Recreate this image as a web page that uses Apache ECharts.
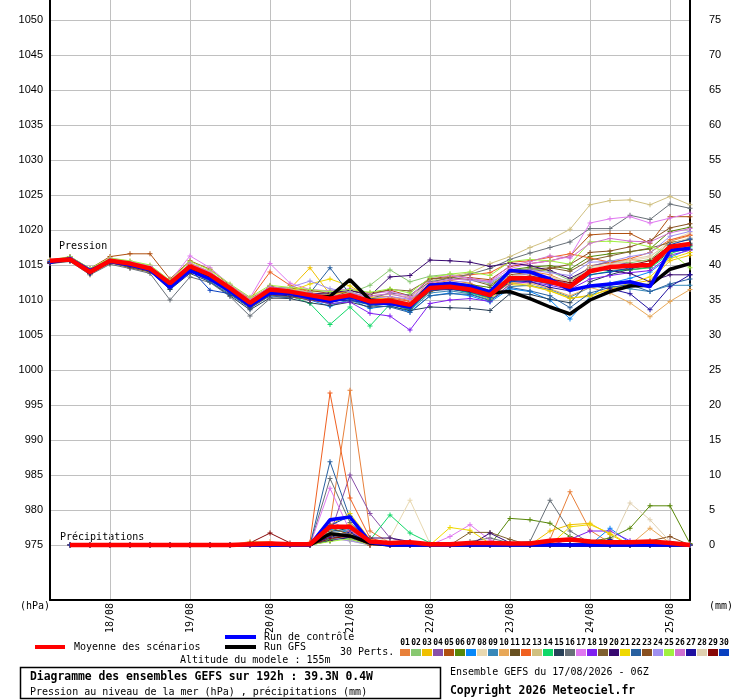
<!DOCTYPE html>
<html>
<head>
<meta charset="utf-8">
<script src="https://cdn.jsdelivr.net/npm/echarts@6/dist/echarts.min.js"></script>
<style>
  html, body { margin: 0; padding: 0; background: #fff; }
  #chart { width: 740px; height: 700px; }
</style>
</head>
<body>
<div id="chart"></div>
<script>
// run 17/08/2026 06Z, 6h steps up to 192h
const times = [
  '17/08 06Z', '17/08 12Z', '17/08 18Z',
  '18/08 00Z', '18/08 06Z', '18/08 12Z', '18/08 18Z',
  '19/08 00Z', '19/08 06Z', '19/08 12Z', '19/08 18Z',
  '20/08 00Z', '20/08 06Z', '20/08 12Z', '20/08 18Z',
  '21/08 00Z', '21/08 06Z', '21/08 12Z', '21/08 18Z',
  '22/08 00Z', '22/08 06Z', '22/08 12Z', '22/08 18Z',
  '23/08 00Z', '23/08 06Z', '23/08 12Z', '23/08 18Z',
  '24/08 00Z', '24/08 06Z', '24/08 12Z', '24/08 18Z',
  '25/08 00Z', '25/08 06Z'
]
const pressTicks = [975, 980, 985, 990, 995, 1000, 1005, 1010, 1015, 1020, 1025, 1030, 1035, 1040, 1045, 1050]
const precipTicks = [0, 5, 10, 15, 20, 25, 30, 35, 40, 45, 50, 55, 60, 65, 70, 75]

const memberColors = [
  '#e8803a', '#88c870', '#f0c000', '#8850a8', '#b05010', '#588808', '#0888f8', '#e8d8b0', '#3888b8', '#e8a858',
  '#685020', '#f06020', '#d0c080', '#10d868', '#284058', '#687078', '#e078f0', '#8020f0', '#806030', '#380870',
  '#f0d800', '#2860a0', '#885020', '#a090f0', '#a0f040', '#d070d0', '#2010a0', '#e0d0b0', '#880808', '#0840c0'
]

// sea level pressure (hPa), perturbations 01..30
const pressMembers = [
  [1015.5,1016.0,1014.2,1015.9,1015.4,1014.8,1012.6,1015.1,1013.9,1011.9,1009.8,1012.0,1011.4,1011.0,1010.6,1010.3,1010.4,1010.5,1009.9,1012.3,1012.8,1012.4,1011.3,1013.9,1014.1,1013.6,1012.4,1014.9,1015.3,1015.8,1015.5,1018.4,1019.2],
  [1015.3,1015.9,1013.8,1015.8,1015.1,1014.6,1012.3,1014.9,1013.7,1011.6,1009.4,1011.9,1011.5,1011.2,1011.3,1011.0,1012.1,1014.3,1012.6,1013.4,1013.7,1013.1,1012.3,1014.2,1014.5,1014.1,1012.8,1014.7,1015.6,1015.3,1015.8,1018.2,1018.7],
  [1015.6,1015.7,1013.9,1015.5,1015.3,1014.4,1012.7,1014.7,1013.4,1011.8,1009.9,1011.3,1011.6,1014.6,1010.8,1011.2,1010.1,1009.6,1008.9,1011.4,1011.6,1011.2,1010.1,1012.2,1012.0,1011.3,1010.2,1010.7,1011.5,1012.3,1012.8,1015.6,1016.4],
  [1015.7,1016.1,1014.4,1015.6,1015.2,1014.6,1012.2,1014.9,1013.8,1011.5,1009.3,1011.1,1010.8,1010.1,1009.6,1010.9,1009.5,1009.8,1009.0,1011.5,1012.1,1011.7,1010.4,1013.5,1013.7,1013.0,1012.3,1014.8,1015.5,1015.1,1014.6,1017.2,1017.8],
  [1015.5,1016.2,1014.5,1016.2,1016.6,1016.6,1013.0,1015.6,1014.4,1012.1,1010.2,1011.8,1011.7,1011.4,1010.9,1011.3,1011.0,1011.4,1010.6,1013.0,1013.4,1013.2,1012.9,1014.8,1015.2,1015.6,1016.3,1019.3,1019.5,1019.5,1018.1,1021.9,1021.9],
  [1015.2,1015.6,1013.7,1015.3,1014.9,1014.3,1012.0,1014.4,1013.2,1011.4,1009.5,1011.2,1010.9,1010.5,1009.9,1010.4,1009.6,1009.4,1008.8,1011.9,1012.5,1012.2,1011.8,1014.3,1014.7,1014.9,1014.4,1016.2,1016.6,1016.9,1017.3,1019.8,1020.4],
  [1015.4,1015.8,1014.1,1015.7,1015.1,1014.5,1012.1,1014.3,1013.1,1011.0,1009.2,1010.6,1010.5,1010.0,1009.1,1010.1,1008.8,1009.2,1008.3,1010.6,1011.0,1010.6,1009.7,1011.6,1011.2,1010.0,1007.3,1010.5,1012.4,1013.1,1014.0,1016.1,1017.3],
  [1015.6,1015.9,1014.3,1015.7,1015.5,1014.9,1012.5,1015.0,1013.9,1011.9,1010.0,1011.7,1011.3,1010.9,1010.3,1010.7,1010.3,1010.0,1009.6,1012.0,1012.2,1011.9,1011.0,1013.0,1013.4,1013.2,1012.6,1014.8,1015.0,1015.6,1016.1,1018.5,1019.6],
  [1015.3,1015.7,1013.9,1015.4,1014.9,1014.2,1011.6,1014.1,1012.8,1010.9,1009.0,1010.8,1010.7,1010.2,1009.4,1009.9,1009.3,1009.6,1008.5,1011.0,1011.3,1010.9,1010.0,1011.9,1012.1,1011.5,1010.4,1011.8,1012.0,1011.6,1011.2,1012.1,1012.1],
  [1015.4,1015.8,1013.6,1015.6,1015.0,1014.4,1012.3,1014.5,1013.4,1011.3,1009.7,1011.4,1011.0,1010.6,1010.2,1010.5,1009.9,1009.7,1009.1,1011.6,1011.7,1011.1,1010.3,1012.5,1012.4,1011.6,1010.6,1011.8,1011.0,1009.6,1007.6,1009.8,1011.5],
  [1015.5,1015.7,1014.0,1015.4,1014.6,1014.0,1011.9,1014.2,1013.3,1011.2,1009.0,1010.9,1010.6,1010.4,1009.9,1010.6,1009.8,1010.2,1009.5,1011.3,1011.9,1011.4,1010.8,1013.4,1013.2,1012.8,1012.2,1014.2,1014.5,1014.3,1014.7,1016.9,1017.2],
  [1015.7,1016.0,1014.3,1015.8,1015.3,1014.7,1012.4,1015.1,1013.5,1011.8,1010.1,1014.0,1012.1,1011.1,1010.0,1010.3,1009.9,1010.3,1009.8,1012.4,1013.3,1013.6,1013.9,1015.4,1015.6,1016.1,1016.6,1016.0,1015.4,1015.9,1016.8,1018.6,1019.3],
  [1015.6,1016.0,1014.2,1015.8,1015.4,1014.8,1012.6,1015.2,1014.1,1012.0,1010.3,1011.8,1011.6,1011.1,1010.7,1011.0,1010.6,1010.8,1010.4,1012.7,1013.4,1013.9,1015.2,1016.2,1017.5,1018.6,1020.1,1023.6,1024.2,1024.3,1023.6,1024.8,1023.6],
  [1015.4,1015.8,1014.0,1015.6,1015.1,1014.5,1012.3,1014.6,1013.5,1011.5,1009.4,1011.0,1010.6,1009.5,1006.5,1009.0,1006.3,1009.4,1008.6,1011.3,1011.6,1011.0,1010.3,1012.8,1012.9,1012.4,1011.7,1013.6,1014.1,1014.3,1014.6,1016.6,1017.6],
  [1015.3,1015.6,1013.8,1015.4,1014.8,1014.1,1011.5,1013.8,1012.6,1010.6,1008.6,1010.3,1010.2,1009.6,1009.2,1009.7,1009.0,1009.1,1008.5,1009.0,1008.9,1008.8,1008.5,1010.9,1010.8,1010.1,1009.6,1012.6,1013.6,1014.4,1015.2,1017.4,1018.1],
  [1015.2,1015.5,1013.6,1015.1,1014.5,1013.8,1010.0,1013.3,1012.5,1010.5,1007.7,1010.2,1010.4,1010.1,1009.7,1010.6,1010.2,1011.0,1010.7,1012.6,1013.1,1013.7,1014.5,1015.8,1016.7,1017.5,1018.3,1020.2,1020.2,1022.1,1021.5,1023.7,1023.1],
  [1015.6,1016.1,1014.4,1016.0,1015.5,1014.9,1012.7,1016.3,1014.6,1012.2,1010.3,1015.2,1012.4,1011.5,1011.3,1011.6,1010.9,1011.2,1010.5,1013.2,1013.5,1013.1,1012.6,1014.5,1015.2,1015.6,1016.2,1021.0,1021.6,1021.9,1021.0,1021.7,1022.4],
  [1015.4,1015.8,1013.9,1015.5,1015.0,1014.3,1011.9,1014.4,1013.2,1011.1,1009.1,1010.9,1010.7,1010.0,1009.5,1009.7,1008.1,1007.7,1005.7,1009.5,1010.0,1010.2,1009.8,1012.3,1012.6,1012.1,1011.5,1013.0,1013.5,1013.9,1014.2,1016.4,1017.1],
  [1015.5,1015.9,1014.1,1015.7,1015.2,1014.6,1012.2,1014.7,1013.7,1011.6,1009.6,1011.5,1011.1,1010.8,1010.3,1011.3,1010.8,1011.5,1011.3,1013.0,1013.2,1012.9,1012.1,1014.0,1014.4,1014.6,1014.1,1015.7,1016.3,1016.9,1017.4,1018.2,1018.6],
  [1015.3,1015.7,1013.9,1015.6,1015.0,1014.4,1012.0,1014.6,1013.4,1011.3,1009.4,1012.0,1011.0,1010.9,1011.0,1011.4,1010.6,1013.3,1013.5,1015.7,1015.6,1015.4,1014.8,1015.3,1014.9,1014.2,1013.1,1014.5,1014.2,1013.8,1012.6,1013.6,1013.6],
  [1015.6,1015.9,1014.2,1015.6,1015.1,1014.5,1012.2,1014.8,1013.6,1011.5,1009.5,1011.3,1011.2,1012.3,1013.0,1012.0,1010.4,1010.0,1009.2,1011.8,1012.0,1011.6,1010.7,1012.4,1012.1,1011.3,1010.3,1010.5,1011.6,1012.4,1013.3,1015.9,1016.8],
  [1015.5,1015.8,1014.0,1015.5,1015.0,1014.3,1011.7,1014.2,1012.6,1010.8,1008.8,1010.6,1010.3,1011.0,1014.6,1010.8,1009.3,1009.0,1008.2,1010.6,1010.9,1010.8,1009.9,1011.8,1011.3,1010.6,1008.9,1011.0,1011.8,1012.2,1011.2,1012.3,1013.0],
  [1015.4,1015.8,1014.1,1015.3,1014.7,1014.1,1011.8,1014.1,1013.0,1011.0,1008.9,1010.7,1010.5,1010.0,1009.6,1010.4,1009.5,1009.8,1008.9,1011.2,1011.8,1011.7,1011.0,1013.6,1014.0,1014.5,1015.1,1016.8,1017.0,1017.6,1018.5,1020.3,1020.9],
  [1015.5,1015.9,1014.2,1015.7,1015.2,1014.7,1012.4,1014.9,1013.8,1011.8,1009.8,1011.6,1011.8,1012.7,1011.6,1011.2,1010.2,1010.5,1010.1,1012.1,1012.5,1012.8,1012.5,1014.1,1014.3,1013.9,1013.5,1015.4,1015.5,1016.2,1016.7,1019.1,1019.8],
  [1015.7,1016.2,1014.5,1016.0,1015.6,1015.0,1012.8,1015.5,1014.3,1012.3,1010.4,1012.1,1011.8,1011.5,1011.2,1011.5,1011.1,1011.6,1011.0,1013.2,1013.7,1014.0,1013.5,1015.5,1015.8,1015.6,1015.1,1018.3,1018.4,1018.2,1017.6,1016.8,1014.6],
  [1015.6,1016.0,1014.3,1015.8,1015.3,1014.8,1012.5,1015.3,1014.0,1011.9,1010.0,1011.9,1011.4,1011.0,1010.5,1010.9,1010.6,1010.9,1010.2,1012.5,1012.9,1013.0,1012.7,1014.9,1015.5,1016.3,1016.0,1018.1,1018.8,1018.4,1018.3,1019.6,1020.2],
  [1015.3,1015.7,1013.8,1015.4,1014.9,1014.2,1011.8,1014.3,1013.1,1011.0,1009.1,1010.8,1010.6,1010.3,1009.8,1010.0,1009.4,1009.9,1009.3,1011.4,1011.5,1011.3,1010.9,1012.8,1012.6,1011.8,1011.3,1012.1,1011.6,1010.9,1008.6,1011.9,1013.6],
  [1015.5,1015.9,1014.2,1015.6,1015.2,1014.6,1012.3,1014.8,1013.7,1011.7,1009.7,1011.4,1011.0,1010.6,1010.1,1010.6,1009.9,1010.1,1009.6,1011.9,1012.2,1012.0,1011.3,1013.5,1013.6,1013.3,1012.7,1014.5,1015.1,1015.8,1016.3,1018.0,1018.9],
  [1015.4,1015.8,1014.0,1015.5,1015.0,1014.4,1012.1,1014.5,1013.3,1011.2,1009.2,1011.0,1010.8,1010.4,1009.9,1010.5,1009.7,1009.9,1009.4,1011.6,1011.8,1011.5,1010.9,1013.2,1013.4,1013.0,1012.5,1014.3,1014.6,1015.0,1015.6,1017.8,1017.9],
  [1015.5,1016.0,1014.2,1015.6,1015.1,1014.5,1012.0,1014.5,1011.4,1010.9,1009.0,1011.1,1010.8,1010.2,1009.7,1010.2,1009.3,1009.4,1008.7,1011.4,1011.6,1011.1,1010.4,1012.6,1012.8,1012.3,1011.8,1013.6,1014.0,1014.6,1014.9,1017.9,1018.7]
]
const pressControl = [1015.4,1015.9,1014.2,1015.5,1015.0,1014.3,1011.8,1014.2,1013.0,1011.3,1009.2,1011.0,1011.0,1010.3,1009.8,1010.5,1009.6,1009.5,1009.0,1012.1,1012.4,1012.0,1011.2,1014.2,1014.0,1013.0,1011.4,1012.0,1012.3,1012.6,1011.9,1017.1,1017.4]
const pressGfs = [1015.5,1015.8,1014.1,1015.6,1015.1,1014.4,1012.2,1014.6,1013.4,1011.5,1009.5,1011.3,1011.0,1010.5,1010.5,1012.9,1010.0,1009.8,1009.2,1012.1,1012.1,1011.4,1011.0,1011.2,1010.2,1009.0,1008.0,1010.0,1011.2,1012.0,1012.1,1014.4,1015.2]
const pressMean = [1015.6,1015.8,1014.0,1015.6,1015.2,1014.5,1012.4,1014.8,1013.6,1011.7,1009.6,1011.5,1011.2,1010.7,1010.2,1010.7,1009.8,1009.9,1009.3,1011.7,1011.9,1011.5,1010.7,1013.1,1013.1,1012.6,1011.9,1014.1,1014.7,1014.9,1015.0,1017.6,1018.0]

// 6h precipitation (mm), perturbations 01..30 (no value at the first step)
const precipMembers = [
  [null,0,0,0,0,0,0,0,0,0,0,0,0, 0.3,3.0,22.1,2.0,0.3,0,0,0,0,0,0,0,0.8,7.6,2.1,0.3,0,0,0,0],
  [null,0,0,0,0,0,0,0,0,0,0,0,0, 0,1.2,0.8,0,0,0,0,0,0,0,0,0,0,0,0,0,0,0,0,0],
  [null,0,0,0,0,0,0,0,0,0,0,0,0, 0,2.0,3.0,0.5,0,0,0,0,0,0,0,0,2.0,2.9,3.1,1.5,0,0,0,0],
  [null,0,0,0,0,0,0,0,0,0,0,0,0, 0,1.5,10.0,4.5,1.0,0.3,0,0,0,0,0,0,0,0,0,0,0,0,0,0],
  [null,0,0,0,0,0,0,0,0,0,0,0,0, 0,0.8,1.5,0.3,0,0,0,0,0,0,0,0,0,0,0,0,0,0,0,0],
  [null,0,0,0,0,0,0,0,0,0,0,0,0, 0,0.6,1.2,0,0,0,0,0,0,0,3.8,3.6,3.1,1.2,0.5,1.0,2.4,5.6,5.6,0.2],
  [null,0,0,0,0,0,0,0,0,0,0,0,0, 0,2.2,1.8,0.3,0,0,0,0,0,0,0,0,0,0,0,2.4,0.3,0,0,0],
  [null,0,0,0,0,0,0,0,0,0,0,0,0, 0,1.3,2.5,0.4,1.0,6.4,0.2,0,0,0,0,0,0,0,0,0,0,0,0,0],
  [null,0,0,0,0,0,0,0,0,0,0,0,0, 0,1.7,2.2,0.5,0,0,0,0,0,0,0,0,0,0,0,0,0,0,0,0],
  [null,0,0,0,0,0,0,0,0,0,0.5,0.5,0, 0,1.4,1.0,0,0,0,0,0,0,0,0,0,0,0,0,0,0,2.4,0.3,0],
  [null,0,0,0,0,0,0,0,0,0,0,0,0, 0,0.9,1.6,0.4,0,0,0,0,0,0,0,0,0,0,0,0,0,0,0,0],
  [null,0,0,0,0,0,0,0,0,0,0,0,0, 0.4,21.7,6.7,1.0,0.2,0,0,0,0,0,0,0,0,0,0,0,0,0,0,0],
  [null,0,0,0,0,0,0,0,0,0,0,0,0, 0,1.0,0.6,0,0,0,0,0,0,0,0,0,0,0,0,0,0,0,0,0],
  [null,0,0,0,0,0,0,0,0,0,0,0,0, 0,0.8,1.0,0.7,4.3,1.7,0.3,0,0,0,0,0,0,0,0,0,0,0,0,0],
  [null,0,0,0,0,0,0,0,0,0,0,0,0, 0,1.9,2.4,0.4,0,0,0,0,0,0,0,0,0,0,0,0,0,0,0,0],
  [null,0,0,0,0,0,0,0,0,0,0,0,0, 0,9.5,3.2,0.6,0,0,0,0,0.5,1.0,0.3,0.5,6.4,2.0,0.3,0,0,0,0,0],
  [null,0,0,0,0,0,0,0,0,0,0,0,0, 0,8.1,2.0,0.3,0,0,0,1.2,2.9,0.7,0,0,0,0,0,0,0,0,0,0],
  [null,0,0,0,0,0,0,0,0,0,0,0,0, 0,1.5,1.0,0,0,0,0,0,0,0,0,0,0,0.8,2.0,2.0,0.6,0,0.5,0],
  [null,0,0,0,0,0,0,0,0,0,0,0,0, 0,2.5,1.5,0,0,0,0,0,1.8,1.8,0.8,0,0,0,0,0,0,0,0,0],
  [null,0,0,0,0,0,0,0,0,0,0,0,0, 0,0.6,1.1,1.0,1.0,0.5,0,0,0,1.7,0.3,0,0,0,0,0,0,0,0,0],
  [null,0,0,0,0,0,0,0,0,0,0,0,0, 0,2.8,4.5,0.8,0,0,0,2.5,2.1,0.2,0,0,0,2.6,2.9,1.7,0,0,0,0],
  [null,0,0,0,0,0,0,0,0,0,0,0,0, 0,11.9,3.8,0.5,0,0,0,0,0,0,0,0,0,0,0,0,0,0,0,0],
  [null,0,0,0,0,0,0,0,0,0,0,0,0, 0,1.2,2.0,0.3,0,0,0,0,0,0,0,0,0,0,0,0,0,0.6,1.2,0],
  [null,0,0,0,0,0,0,0,0,0,0,0,0, 0,1.0,0.6,0,0,0,0,0,0,0,0,0,0.7,1.0,0,0,0,0,0,0],
  [null,0,0,0,0,0,0,0,0,0,0,0,0, 0,0.5,0.9,0,0,0,0,0,0,0,0,0,0,0,0,0,0,0,0,0],
  [null,0,0,0,0,0,0,0,0,0,0,0,0, 0,3.5,2.0,0.3,0,0,0,0,0,0,0,0,0,0,0,0,0.5,0,0,0],
  [null,0,0,0,0,0,0,0,0,0,0,0,0, 0,1.1,1.8,0.3,0,0,0,0,0,0,0,0,0,0,0,0.8,0,0,0,0],
  [null,0,0,0,0,0,0,0,0,0,0,0,0, 0,1.8,1.5,0,0,0,0,0,0,0,0,0,0,0,0,0,6.0,3.6,0.5,0],
  [null,0,0,0,0,0,0,0,0,0,0.3,1.7,0.3, 0,0.9,1.3,0,0,0,0,0,0,0,0,0,0,0,0,0,0,0,0,0],
  [null,0,0,0,0,0,0,0,0,0,0,0,0, 0,2.8,4.1,0.6,0,0,0,0,0,0,0,0,0,0,0,0,0,0,0,0]
]
const precipControl = [null,0,0,0,0,0,0,0,0,0,0,0,0, 0,3.6,4.0,0.4,0,0,0,0,0,0,0,0,0,0,0,0,0,0,0,0]
const precipGfs = [null,0,0,0,0,0,0,0,0,0,0,0,0, 0,1.6,1.3,0.3,0,0,0,0,0,0,0,0,0,0,0,0,0,0,0,0]
const precipMean = [null,0,0,0,0,0,0,0,0,0,0.1,0.2,0.1, 0.1,2.6,2.6,0.5,0.3,0.4,0.1,0.1,0.3,0.3,0.2,0.2,0.6,0.8,0.5,0.4,0.4,0.5,0.3,0.0]

const MONO = '"DejaVu Sans Mono", "Liberation Mono", monospace'
const SANS = '"Liberation Sans", Arial, sans-serif'
const plus = 'path://M2,0H3V2H5V3H3V5H2V3H0V2H2Z'
const isDay = (i) => i % 4 === 3

const chart = echarts.init(document.getElementById('chart'), null, { renderer: 'canvas' })

const series = []
pressMembers.forEach((d, i) => {
  series.push({
    type: 'line', data: d, yAxisIndex: 0, symbol: plus, symbolSize: 5, showSymbol: true,
    lineStyle: { color: memberColors[i], width: 1 }, itemStyle: { color: memberColors[i] },
    silent: true, z: 2
  })
})
precipMembers.forEach((d, i) => {
  series.push({
    type: 'line', data: d, yAxisIndex: 1, symbol: plus, symbolSize: 5, showSymbol: true,
    lineStyle: { color: memberColors[i], width: 1 }, itemStyle: { color: memberColors[i] },
    silent: true, z: 2
  })
})
const mainRuns = [
  [pressGfs, precipGfs, '#000000', 3.5, 3],
  [pressControl, precipControl, '#0000ff', 3.5, 4],
  [pressMean, precipMean, '#ff0000', 4.5, 5]
]
mainRuns.forEach(([p, r, c, w, z]) => {
  series.push({ type: 'line', data: p, yAxisIndex: 0, symbol: 'none', lineStyle: { color: c, width: w }, silent: true, z })
  series.push({ type: 'line', data: r, yAxisIndex: 1, symbol: 'none', lineStyle: { color: c, width: w }, silent: true, z })
})

const txt = (x, y, text, opts = {}) => ({
  type: 'text', x, y,
  style: Object.assign({ text, font: '10px ' + MONO, fill: '#000', textVerticalAlign: 'middle' }, opts)
})

const graphic = [
  txt(59, 246, 'Pression'),
  txt(60, 537, 'Précipitations'),
  txt(20, 606, '(hPa)'),
  txt(709, 606, '(mm)'),
  { type: 'rect', shape: { x: 35, y: 645, width: 30, height: 4 }, style: { fill: '#ff0000' } },
  txt(74, 647, 'Moyenne des scénarios'),
  { type: 'rect', shape: { x: 225, y: 635, width: 31, height: 4 }, style: { fill: '#0000ff' } },
  txt(264, 637, 'Run de contrôle'),
  { type: 'rect', shape: { x: 225, y: 645, width: 31, height: 4 }, style: { fill: '#000000' } },
  txt(264, 647, 'Run GFS'),
  txt(180, 660, 'Altitude du modele : 155m'),
  txt(340, 652, '30 Perts.'),
  { type: 'rect', shape: { x: 20.5, y: 667.5, width: 420, height: 31 }, style: { fill: 'none', stroke: '#000', lineWidth: 1.5 } },
  txt(30, 677, 'Diagramme des ensembles GEFS sur 192h : 39.3N 0.4W', { font: 'bold 11.4px ' + MONO }),
  txt(30, 692, 'Pression au niveau de la mer (hPa) , précipitations (mm)'),
  txt(450, 672, 'Ensemble GEFS du 17/08/2026 - 06Z'),
  txt(450, 691, 'Copyright 2026 Meteociel.fr', { font: 'bold 11.4px ' + MONO })
]
memberColors.forEach((c, i) => {
  const x = 400 + i * 11
  graphic.push({ type: 'rect', shape: { x, y: 649, width: 10, height: 7 }, style: { fill: c } })
  graphic.push(txt(x + 5, 643, String(i + 1).padStart(2, '0'), { font: 'bold 8px ' + MONO, textAlign: 'center' }))
})

chart.setOption({
  animation: false,
  backgroundColor: '#ffffff',
  grid: { left: 50, right: 50, top: 0, bottom: 100, containLabel: false },
  xAxis: {
    type: 'category', data: times, boundaryGap: false,
    axisLine: { onZero: false, lineStyle: { color: '#000', width: 2 } },
    axisTick: { show: false },
    axisLabel: {
      interval: (i) => isDay(i), rotate: 90, margin: 3, color: '#000',
      fontFamily: MONO, fontSize: 10, formatter: (v) => v.slice(0, 5)
    },
    splitLine: { show: true, interval: (i) => isDay(i), lineStyle: { color: '#c0c0c0', width: 1 } }
  },
  yAxis: [
    {
      type: 'value', position: 'left', min: 975 - 55 / 7, max: 1050 + 20 / 7,
      axisLine: { show: true, onZero: false, lineStyle: { color: '#000', width: 2 } },
      axisTick: { show: false, customValues: pressTicks },
      axisLabel: {
        customValues: pressTicks, color: '#000', fontFamily: SANS, fontSize: 11, margin: 7,
        formatter: (v) => String(Math.round(v))
      },
      splitLine: { show: true, lineStyle: { color: '#c0c0c0', width: 1 } }
    },
    {
      type: 'value', position: 'right', min: -55 / 7, max: 75 + 20 / 7,
      axisLine: { show: true, onZero: false, lineStyle: { color: '#000', width: 2 } },
      axisTick: { show: false, customValues: precipTicks },
      axisLabel: {
        customValues: precipTicks, color: '#000', fontFamily: SANS, fontSize: 11, margin: 19,
        formatter: (v) => String(Math.round(v))
      },
      splitLine: { show: false }
    }
  ],
  series,
  graphic
})
</script>
</body>
</html>
